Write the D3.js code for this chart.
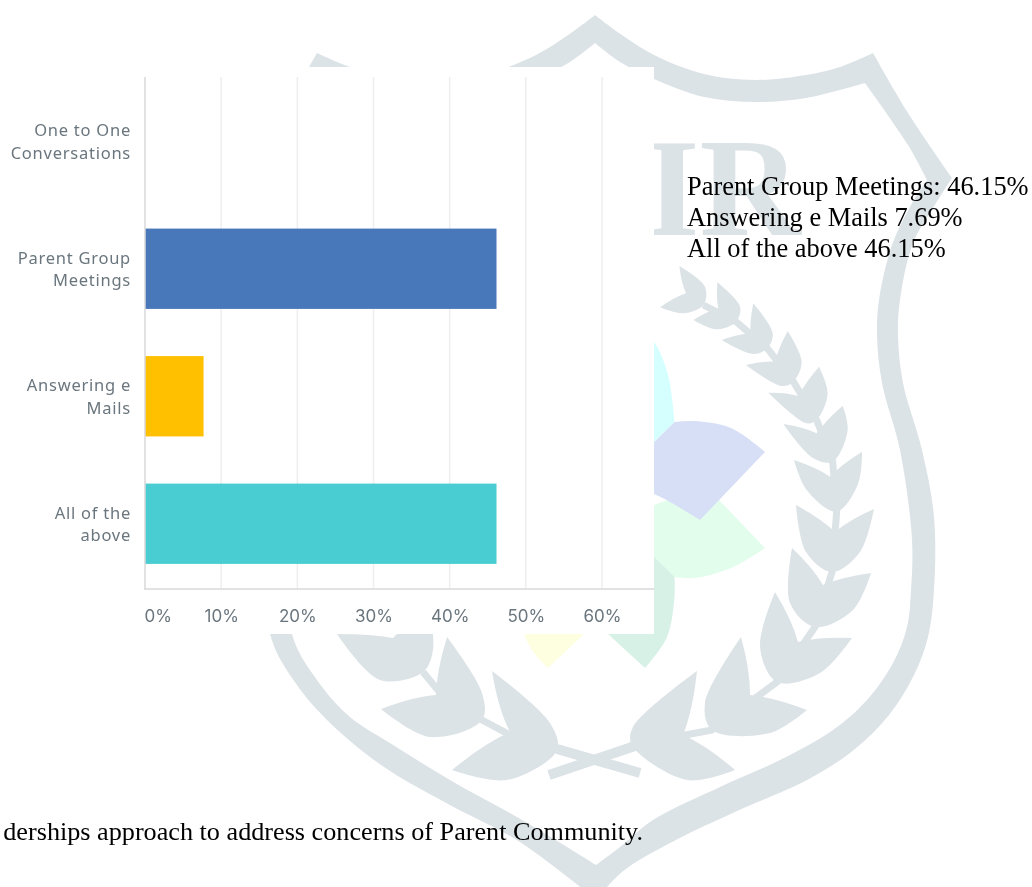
<!DOCTYPE html>
<html><head><meta charset="utf-8">
<script src="https://cdn.jsdelivr.net/npm/d3@7"></script>
<style>html,body{margin:0;padding:0;background:#fff;overflow:hidden}svg{display:block}</style>
</head><body><div id="chart"></div>
<script>
const categories = ["One to One Conversations","Parent Group Meetings","Answering e Mails","All of the above"];
const categoryLines = [["One to One","Conversations"],["Parent Group","Meetings"],["Answering e","Mails"],["All of the","above"]];
const values = [0,46.15,7.69,46.15];
const barColors = ["#4a78ba","#4a78ba","#ffc000","#4acdd2"];
const tickValues = [0,10,20,30,40,50,60];
const noteLines = ["Parent Group Meetings: 46.15%","Answering e Mails 7.69%","All of the above 46.15%"];
const caption = "derships approach to address concerns of Parent Community.";

const W=1032,H=887,MARK="#dce3e6";
const svg=d3.select("#chart").append("svg").attr("width",W).attr("height",H);
const defs=svg.append("defs");
defs.append("filter").attr("id","soft").append("feGaussianBlur").attr("stdDeviation",0.45);
const bg=svg.append("g");
const smooth=d3.line().curve(d3.curveCatmullRom.alpha(0.5));
const seg=(pts,first)=>{const s=smooth(pts);return first?s:"L"+s.slice(1)};

// ---- watermark: shield outline
const outerUpper=[[595,15],[619,33],[654,55],[704,74],[755,80],[806,75],[840,67],[873,53]];
const innerUpper=[[595,43],[620,62],[654,79],[704,97],[755,102],[806,98],[865,83]];
const outerSide=[[873,53],[908,113],[952,178]];
const outerSide2=[[952,178],[933,208],[913,243],[900,300],[898,335],[903,383],[922,450],[934,517],[934,590],[928,637],[914,675],[889,715],[855,749],[809,779],[735,812],[672,842],[622,872],[596,900]];
const innerSide=[[596,865],[620,847],[653,820],[720,787],[780,760],[833,730],[867,700],[893,663],[907,627],[911,590],[912,540],[900,450],[882,383],[877,335],[879,300],[892,245],[910,207],[927,180]];
const innerSide2=[[927,180],[908,145],[865,83]];
bg.append("path").attr("fill",MARK).attr("d",
  seg(outerUpper,true)+seg(outerSide)+seg(outerSide2)+seg(innerSide)+seg(innerSide2)+seg(innerUpper.slice().reverse())+"Z");
// left: upper part mirrored, lower part read separately
const mx=p=>[1190-p[0],p[1]];
const lowerOuter=[[238,178],[255,215],[270,300],[262,500],[270,634],[292,678],[326,719],[381,765],[448,804],[515,839],[565,875],[596,900]];
const lowerInner=[[596,865],[567,847],[517,817],[450,780],[390,743],[350,717],[317,680],[292,634],[285,500],[295,300],[285,215],[263,180]];
bg.append("path").attr("fill",MARK).attr("d",
  seg(outerUpper.map(mx),true)+seg(outerSide.map(mx))+seg(lowerOuter)+seg(lowerInner)+seg(innerSide2.map(mx))+seg(innerUpper.map(mx).reverse())+"Z");

// ---- watermark: monogram
bg.append("text").attr("x",645).attr("y",235).attr("fill",MARK)
  .attr("font-family","'Liberation Serif'").attr("font-weight","bold").attr("font-size",140).text("IR");

// ---- watermark: pastel petals
const petal=(fill,parts)=>bg.append("path").attr("fill",fill).attr("d",parts.map((p,i)=>seg(p,i===0)).join("")+"Z");
petal("#d5ffff",[[[630,320],[654,342],[668,375],[674.5,422]],[[674.5,422],[654,442],[630,466]]]);
petal("#e2fdec",[[[640,510],[654,505],[670,499]],[[670,499],[690,480]],[[690,480],[719,500]],[[719,500],[765,548]],[[765,548],[731,568],[694,578],[674.5,577]],[[674.5,577],[640,557]]]);
petal("#d7f1e7",[[[654,557],[674.5,577]],[[674.5,577],[674.5,597],[667,637],[645,668]],[[645,668],[608,634]],[[608,634],[654,620]]]);
petal("#fefee0",[[[524.5,625],[524.5,634],[534,653],[548,668]],[[548,668],[584,634]],[[584,634],[584,625]]]);
petal("#d7dff6",[[[640,456],[674.5,422]],[[674.5,422],[694,421],[731,428],[765,452]],[[765,452],[700,520]],[[700,520],[670,502],[654,494],[640,490]]]);

// ---- watermark: laurel sprigs  [tipA, bulgeA, base, bulgeB, tipB, notch]
const tulip=(a,ba,b,bb,c,n)=>{
  const ctr=[(a[0]+c[0]+2*n[0])/4,(a[1]+c[1]+2*n[1])/4];
  const pull=(p,r)=>[(p[0]+n[0])/2+(ctr[0]-(p[0]+n[0])/2)*r,(p[1]+n[1])/2+(ctr[1]-(p[1]+n[1])/2)*r];
  return smooth([a,ba,b,bb,c])+`Q${pull(c,0.3)} ${n}Q${pull(a,0.3)} ${a}Z`;
};
const z5=(x,y)=>[660+x/3,250+y/3];
const sprig=[
 [z5(58,48),z5(135,110),z5(130,165),z5(70,190),z5(0,172),z5(78,130)],
 [z5(172,97),z5(240,170),z5(228,215),z5(170,238),z5(100,210),z5(175,175)],
 [z5(280,160),z5(338,250),z5(322,295),z5(280,312),z5(185,270),z5(272,250)],
 [z5(383,243),z5(425,335),z5(400,395),z5(365,408),z5(258,345),z5(345,335)],
 [z5(477,350),z5(503,430),z5(470,510),z5(440,520),z5(325,428),z5(415,438)],
 [z5(548,467),z5(563,540),z5(518,635),z5(460,625),z5(370,522),z5(470,550)],
 [z5(606,605),z5(595,700),z5(530,785),z5(440,720),z5(402,630),z5(510,680)],
 [[874,509],[860,552],[832,572],[806,552],[796,505],[835,532]],
 [[871,573],[853,610],[815,627],[790,603],[792,548],[823,585]],
 [[852,638],[820,673],[777,682],[760,647],[775,592],[798,642]],
 [[807,710],[770,733],[712,730],[705,703],[741,637],[750,695]],
 [[735,770],[687,780],[632,745],[633,727],[697,671],[683,735]],
];
const sprigLeft=[
 [[452,770],[507,780],[557,750],[550,723],[492,671],[510,732]],
 [[381,709],[430,737],[482,720],[482,693],[447,637],[436,695]],
 [[337,634],[380,680],[423,672],[433,650],[430,610],[393,638]],
];
sprig.concat(sprigLeft).forEach(t=>bg.append("path").attr("fill",MARK).attr("d",tulip(...t)));
const stemLine=d3.line();
bg.append("path").attr("fill","none").attr("stroke",MARK).attr("stroke-width",7).attr("stroke-linejoin","round")
  .attr("d",stemLine(sprig.map(t=>t[2]).concat([[633,748]])));
bg.append("path").attr("fill","none").attr("stroke",MARK).attr("stroke-width",7).attr("stroke-linejoin","round")
  .attr("d",stemLine([[423,672],[442,695],[482,720],[510,735],[557,750]]));
bg.append("path").attr("fill","none").attr("stroke",MARK).attr("stroke-width",10).attr("d","M635,746L549,775");
bg.append("path").attr("fill","none").attr("stroke",MARK).attr("stroke-width",10).attr("d","M557,749L640,773");

// ---- white chart panel
svg.append("rect").attr("x",0).attr("y",67).attr("width",654).attr("height",567).attr("fill","#fff");

// ---- chart
const x=d3.scaleLinear().domain([0,60]).range([145,602]);
const y=d3.scaleBand().domain(categories).range([77.5,587.5]).paddingInner(0.37).paddingOuter(0.185);
const g=svg.append("g").attr("filter","url(#soft)");
const FONT="'Noto Sans'",TXT="#6a767e";
g.selectAll("line.grid").data(tickValues.slice(1)).join("line").attr("class","grid")
  .attr("x1",d=>x(d)).attr("x2",d=>x(d)).attr("y1",77).attr("y2",588)
  .attr("stroke","#eeeeee").attr("stroke-width",1.5);
g.selectAll("rect.bar").data(categories).join("rect").attr("class","bar")
  .attr("x",x(0)).attr("y",d=>y(d)).attr("height",y.bandwidth())
  .attr("width",(d,i)=>x(values[i])-x(0)).attr("fill",(d,i)=>barColors[i]);
g.append("line").attr("x1",x(0)).attr("x2",x(0)).attr("y1",77).attr("y2",589).attr("stroke","#d9d9d9").attr("stroke-width",1.5);
g.append("line").attr("x1",x(0)-1).attr("x2",654).attr("y1",589).attr("y2",589).attr("stroke","#d9d9d9").attr("stroke-width",1.5);
const xAxis=g.append("g").attr("transform","translate(0,589)").call(d3.axisBottom(x).tickValues(tickValues).tickFormat(d=>d+"%").tickSize(0).tickPadding(21));
xAxis.select(".domain").remove();
xAxis.selectAll("text").attr("font-family","Inter").attr("font-size",17).attr("fill",TXT)
  .attr("text-anchor",d=>d===0?"start":"middle").attr("dx",d=>d===0?-1:0);
const yAxis=g.append("g").attr("transform","translate(131,0)").call(d3.axisLeft(y).tickSize(0).tickPadding(0).tickFormat(""));
yAxis.select(".domain").remove();
yAxis.selectAll(".tick text").remove();
yAxis.selectAll(".tick").each(function(d,i){
  const t=d3.select(this).append("text").attr("text-anchor","end").attr("font-family",FONT).attr("font-size",16.5).attr("fill",TXT).attr("letter-spacing",0.75);
  categoryLines[i].forEach((l,j)=>t.append("tspan").attr("x",0).attr("y",(j===0?-10.5:12)+5.5).text(l));
});

// ---- surrounding document text
const serif="'Liberation Serif'";
svg.selectAll("text.note").data(noteLines).join("text").attr("class","note")
  .attr("x",687).attr("y",(d,i)=>195+i*31).attr("font-family",serif).attr("font-size",26.4).attr("fill","#000").text(d=>d);
svg.append("text").attr("x",643).attr("y",840).attr("text-anchor","end").attr("font-family",serif).attr("font-size",26.2).attr("fill","#000").text(caption);
</script></body></html>
